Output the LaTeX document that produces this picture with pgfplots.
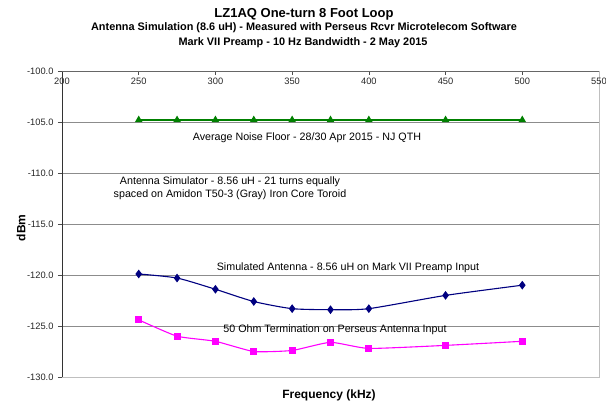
\documentclass[border=0pt]{standalone}
\usepackage{fontspec}
\setmainfont{Liberation Sans}
\usepackage{pgfplots}
\pgfplotsset{compat=1.18}
\definecolor{navyline}{HTML}{000080}
\definecolor{pinkline}{HTML}{FF00FF}
\definecolor{greenline}{HTML}{008000}
\begin{document}
\begin{tikzpicture}[x=1pt,y=1pt]
\useasboundingbox (0,0) rectangle (606,404);
\begin{axis}[
  at={(62pt,27pt)}, anchor=south west,
  scale only axis, width=537pt, height=306pt,
  xmin=200, xmax=550, ymin=-130, ymax=-100,
  xtick={200,250,...,550},
  xticklabels={200,250,300,350,400,450,500,550},
  ytick={-130,-125,...,-100},
  yticklabels={-130.0,-125.0,-120.0,-115.0,-110.0,-105.0,-100.0},
  xticklabel pos=upper, xtick pos=upper,
  ytick pos=left,
  xtick align=inside, ytick align=outside, major tick length=4pt,
  xticklabel style={anchor=north, yshift=-3pt, font=\fontsize{9.3}{10}\selectfont, text=black!85},
  yticklabel style={font=\fontsize{9.3}{10}\selectfont, xshift=-1pt, text=black!85},
  tick style={black!70, line width=0.6pt},
  ymajorgrids, grid style={black!45, line width=0.7pt},
  axis line style={black!25, line width=0.8pt},
  clip=false,
]
\addplot[greenline, line width=1.1pt, mark=triangle*, mark size=3.3pt] coordinates {
(250,-104.8) (275,-104.8) (300,-104.8) (325,-104.8) (350,-104.8) (375,-104.8) (400,-104.8) (450,-104.8) (500,-104.8)};
\addplot[navyline, line width=1.1pt, smooth, tension=0.4, mark=diamond*, mark size=3.5pt, mark options={solid}] coordinates {
(250,-119.9) (275,-120.3) (300,-121.4) (325,-122.6) (350,-123.3) (375,-123.4) (400,-123.3) (450,-122.0) (500,-121.0)};
\addplot[pinkline, line width=1.1pt, smooth, tension=0.3, mark=square*, mark size=3pt] coordinates {
(250,-124.4) (275,-126.0) (300,-126.5) (325,-127.5) (350,-127.4) (375,-126.6) (400,-127.2) (450,-126.9) (500,-126.5)};
\draw[black!80, line width=0.8pt] (rel axis cs:0,0) -- (rel axis cs:0,1);
\draw[black!60, line width=0.8pt] (rel axis cs:0,1) -- (rel axis cs:1,1);
\end{axis}
\node[font=\fontsize{13}{15}\selectfont\bfseries] at (304,390) {LZ1AQ One-turn 8 Foot Loop};
\node[font=\fontsize{10.9}{12}\selectfont\bfseries] at (304,376) {Antenna Simulation (8.6 uH) - Measured with Perseus Rcvr Microtelecom Software};
\node[font=\fontsize{10.9}{12}\selectfont\bfseries] at (303,361) {Mark VII Preamp - 10 Hz Bandwidth - 2 May 2015};
\node[font=\fontsize{12}{14}\selectfont\bfseries, rotate=90] at (21,176) {dBm};
\node[font=\fontsize{12}{14}\selectfont\bfseries] at (329,9) {Frequency (kHz)};
\node[font=\fontsize{10.7}{12}\selectfont] at (307,266) {Average Noise Floor - 28/30 Apr 2015 - NJ QTH};
\node[font=\fontsize{10.7}{12}\selectfont, align=center, inner sep=0pt] at (230,215.5) {Antenna Simulator - 8.56 uH - 21 turns equally\\[1pt]spaced on Amidon T50-3 (Gray) Iron Core Toroid};
\node[font=\fontsize{10.7}{12}\selectfont] at (348,136) {Simulated Antenna - 8.56 uH on Mark VII Preamp Input};
\node[font=\fontsize{10.7}{12}\selectfont] at (335,74) {50 Ohm Termination on Perseus Antenna Input};
\end{tikzpicture}
\end{document}
